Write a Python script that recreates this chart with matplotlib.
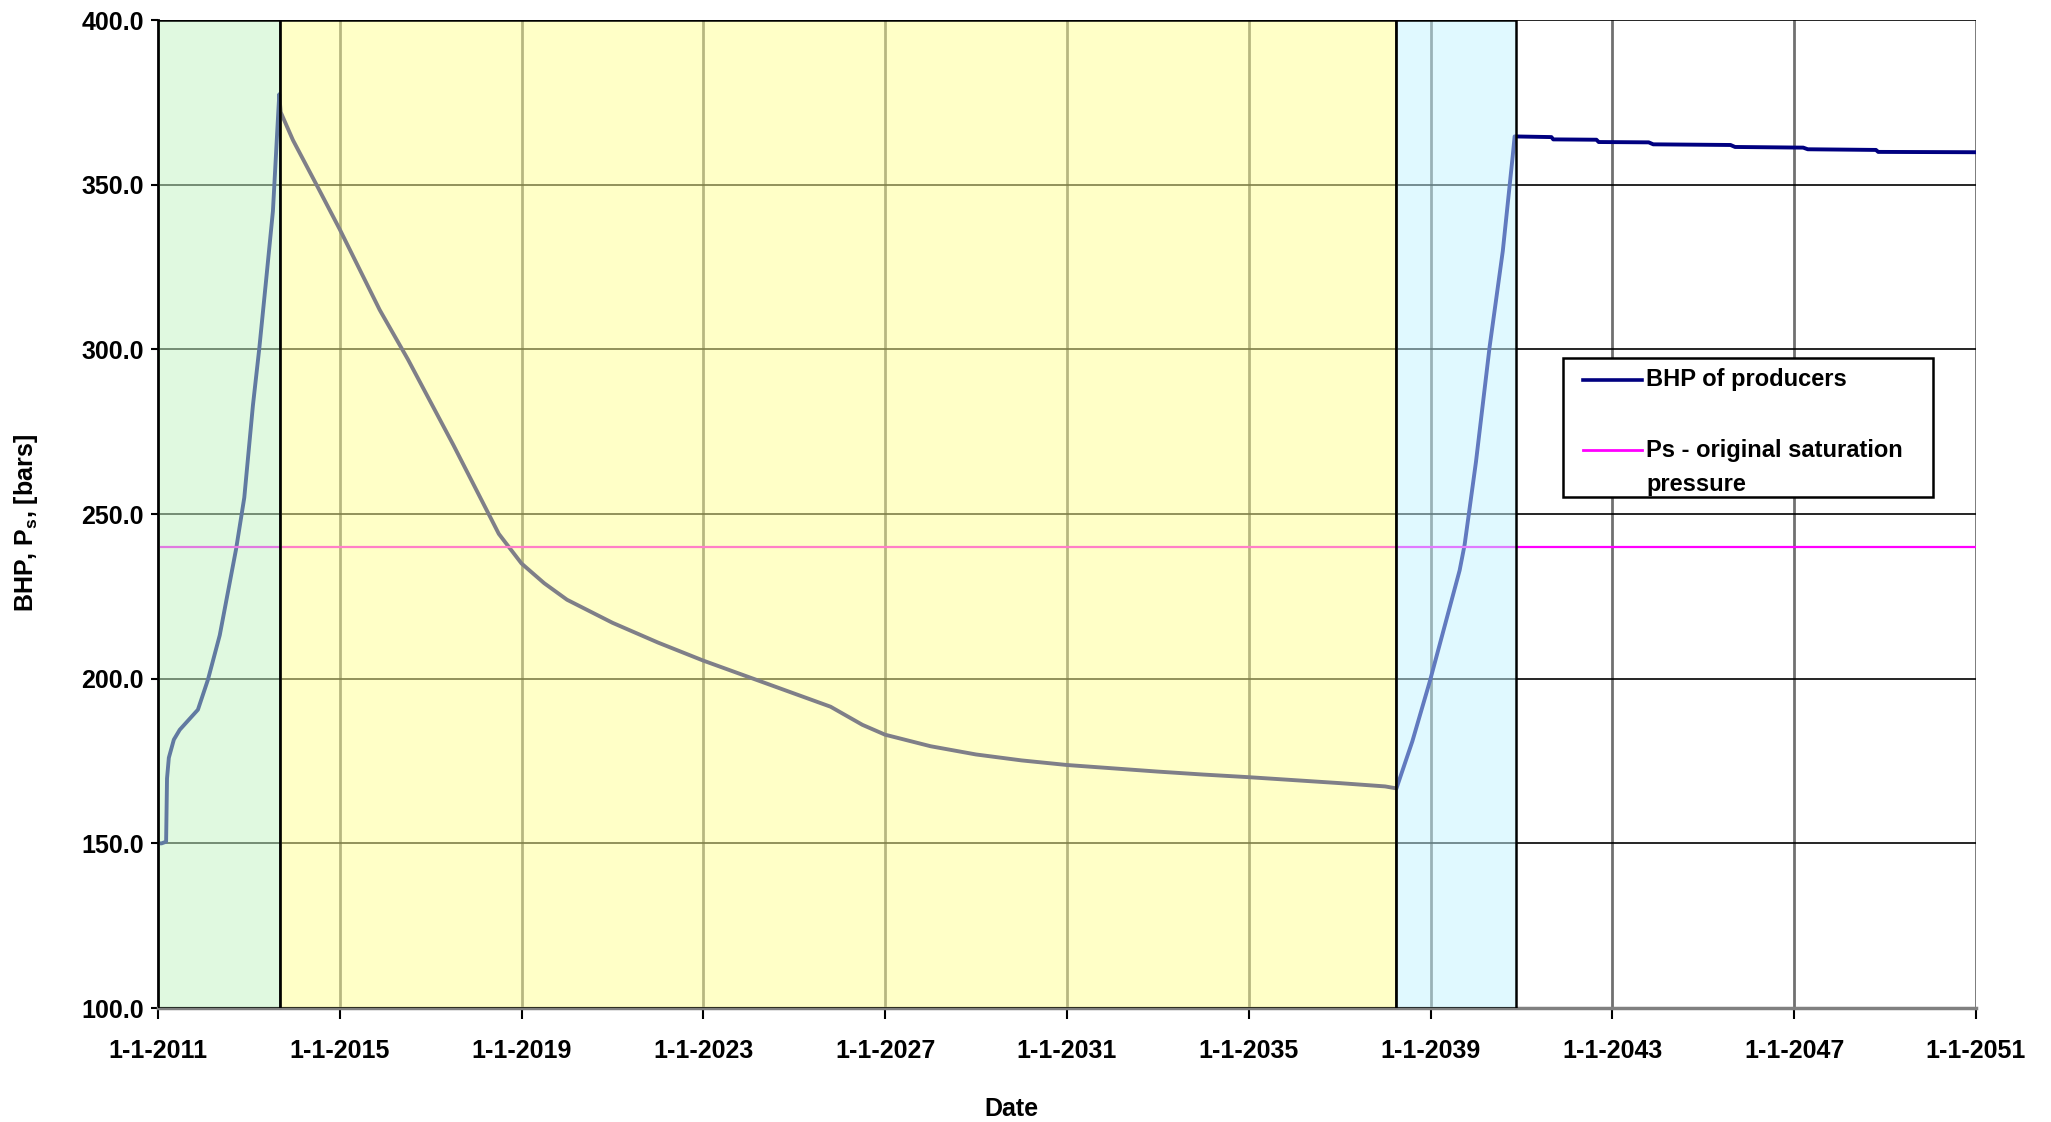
import matplotlib
matplotlib.use("Agg")
import matplotlib.pyplot as plt
from matplotlib.patches import Rectangle
from matplotlib.lines import Line2D

plt.rcParams['font.family'] = ['Liberation Sans', 'DejaVu Sans']
plt.rcParams['font.weight'] = 'bold'

# BHP of producers, decimal years vs bars
bhp_years = [2011.0, 2011.08, 2011.18, 2011.20, 2011.24, 2011.35, 2011.48, 2011.88, 2012.10,
             2012.36, 2012.72, 2012.90, 2013.09, 2013.23, 2013.38, 2013.53, 2013.64,
             2013.67, 2013.70, 2013.97, 2014.49, 2015.0, 2015.88, 2016.5, 2017.0,
             2017.5, 2018.0, 2018.5, 2019.0, 2019.5, 2020.0, 2021.0, 2022.0, 2023.0,
             2024.0, 2025.0, 2025.8, 2026.5, 2027.0, 2028.0, 2029.0, 2030.0, 2031.0,
             2032.0, 2033.0, 2034.0, 2035.0, 2036.0, 2037.0, 2038.0, 2038.25,
             2038.6, 2038.98, 2039.64, 2039.75, 2040.0, 2040.30, 2040.59, 2040.81,
             2040.85, 2041.66, 2041.70, 2042.65, 2042.70, 2043.8, 2043.9, 2045.6,
             2045.7, 2047.2, 2047.3, 2048.8, 2048.85, 2051.0]
bhp_values = [150.0, 150.0, 150.5, 169.7, 176.0, 181.5, 184.5, 190.6, 199.7,
              213.2, 239.4, 255.0, 283.0, 300.3, 321.0, 342.0, 370.0,
              377.5, 372.1, 363.6, 350.0, 336.5, 312.0, 297.0, 284.0,
              271.0, 257.5, 244.0, 235.0, 229.0, 224.0, 217.0, 211.0, 205.5,
              200.5, 195.5, 191.5, 186.0, 183.0, 179.5, 177.0, 175.2, 173.8,
              172.8, 171.8, 170.9, 170.1, 169.2, 168.3, 167.3, 166.7,
              181.0, 199.0, 232.9, 240.7, 265.9, 300.8, 329.9, 359.0,
              364.7, 364.5, 363.8, 363.7, 363.0, 362.9, 362.3, 362.1,
              361.5, 361.3, 360.8, 360.6, 360.0, 359.9]

ps_years = [2011.0, 2051.0]
ps_values = [240.0, 240.0]

# shaded periods: start, end, face colour
period_start = [2011.0, 2013.69, 2038.25]
period_end = [2013.69, 2038.25, 2040.87]
period_color = ['#c3f5c3', '#ffff91', '#c3f5ff']

tick_years = list(range(2011, 2052, 4))
tick_labels = ['1-1-%d' % y for y in tick_years]
y_ticks = [100, 150, 200, 250, 300, 350, 400]

fig = plt.figure(figsize=(20.51, 11.22), dpi=100)
ax = fig.add_axes([0.077, 0.1016, 0.8864, 0.8804])

ax.plot(bhp_years, bhp_values, color='#000080', lw=2.8, zorder=2)
ax.plot(ps_years, ps_values, color='#ff00ff', lw=1.6, zorder=2)

for s, e, c in zip(period_start, period_end, period_color):
    ax.add_patch(Rectangle((s, 100), e - s, 300, facecolor=matplotlib.colors.to_rgba(c, 0.5),
                           edgecolor='black', lw=1.8, zorder=3))

ax.set_xlim(2011, 2051)
ax.set_ylim(100, 400)
ax.set_xticks(tick_years)
ax.set_xticklabels(tick_labels)
ax.set_yticks(y_ticks)
ax.set_yticklabels(['%.1f' % v for v in y_ticks])
ax.tick_params(axis='x', labelsize=18, length=8, width=1.5, pad=14, color='black')
ax.tick_params(axis='y', labelsize=18, length=5, width=1.5, pad=5, color='black')
for lab in ax.get_xticklabels() + ax.get_yticklabels():
    lab.set_fontweight('bold')

ax.set_axisbelow(True)
ax.yaxis.grid(True, color='black', lw=1.2)
ax.xaxis.grid(True, color='#707070', lw=2)
ax.spines['top'].set_visible(False)
ax.spines['right'].set_visible(False)
ax.spines['left'].set_color('black')
ax.spines['left'].set_linewidth(2)
ax.spines['bottom'].set_color('#808080')
ax.spines['bottom'].set_linewidth(2.5)

W, H = 2051.0, 1122.0
def fx(px):
    return px / W
def fy(py):
    return 1 - py / H

fig.text(fx(26), fy(523), 'BHP, P$_\\mathregular{s}$, [bars]', rotation=90, ha='center', va='center',
         fontsize=18, fontweight='bold')
fig.text(fx(1011), fy(1109), 'Date', ha='center', va='center', fontsize=18, fontweight='bold')

# legend box
fig.patches.append(Rectangle((fx(1563), fy(497)), fx(1933) - fx(1563), fy(358) - fy(497),
                             transform=fig.transFigure, facecolor='white', edgecolor='black',
                             lw=1.8, zorder=5))
fig.lines.append(Line2D([fx(1583), fx(1642)], [fy(380), fy(380)], transform=fig.transFigure,
                        color='#000080', lw=2.6, zorder=6))
fig.lines.append(Line2D([fx(1583), fx(1642)], [fy(450), fy(450)], transform=fig.transFigure,
                        color='#ff00ff', lw=2.0, zorder=6))
fig.text(fx(1646), fy(380), 'BHP of producers', ha='left', va='center', fontsize=17,
         fontweight='bold', zorder=7)
fig.text(fx(1646), fy(450), 'Ps - original saturation', ha='left', va='center', fontsize=17,
         fontweight='bold', zorder=7)
fig.text(fx(1646), fy(485), 'pressure', ha='left', va='center', fontsize=17,
         fontweight='bold', zorder=7)

fig.savefig('out.png', dpi=100)
